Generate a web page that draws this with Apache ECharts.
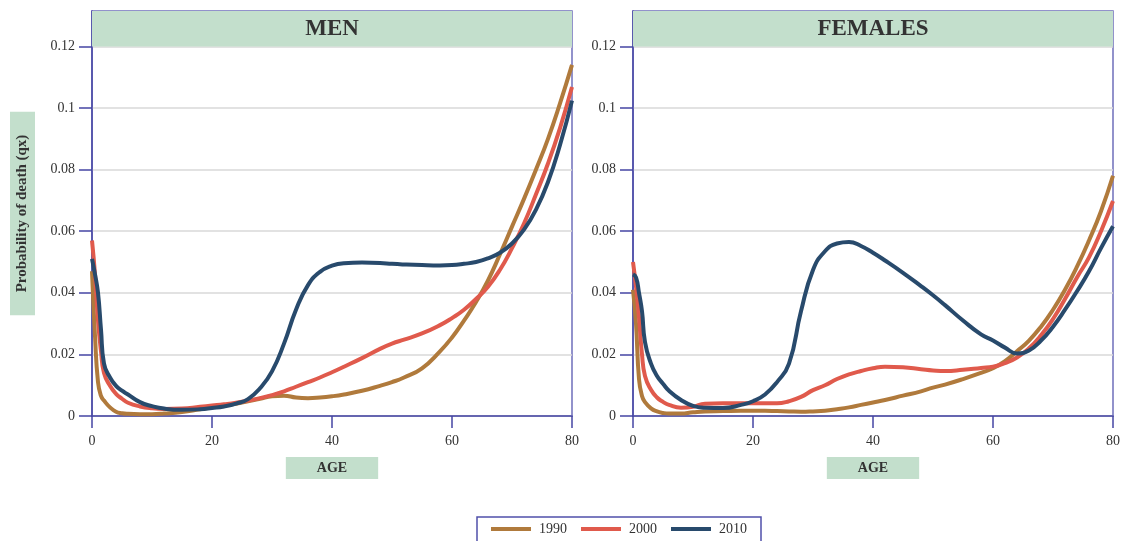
<!DOCTYPE html>
<html>
<head>
<meta charset="utf-8">
<script src="https://cdn.jsdelivr.net/npm/echarts@6/dist/echarts.min.js"></script>
<style>
    html, body { margin: 0; padding: 0; background: #fff; }
    #chart { width: 1124px; height: 541px; }
</style>
</head>
<body>
<div id="chart"></div>
<script>
// ages (years) shared by every curve
const ages = [0, 0.5, 1, 1.5, 2, 3, 4, 5, 6, 8, 10, 12, 15, 18, 20, 22, 24, 26, 28, 30,
    32, 34, 36, 38, 40, 42, 45, 48, 50, 52, 55, 58, 60, 62, 64, 66, 68, 70, 72, 74, 76, 78, 80];

// probability of death, men
const men1990 = [0.047, 0.026, 0.011, 0.0065, 0.005, 0.0028, 0.0014, 0.0009, 0.0007, 0.0006, 0.0006, 0.0008, 0.0013, 0.0022, 0.0028, 0.0034, 0.004, 0.0048, 0.0056, 0.0064,
    0.0066, 0.006, 0.0058, 0.006, 0.0064, 0.007, 0.0082, 0.0098, 0.011, 0.0125, 0.0155, 0.021, 0.0255, 0.031, 0.037, 0.044, 0.0525, 0.0615, 0.0705, 0.08, 0.09, 0.1015, 0.114];
const men2000 = [0.057, 0.046, 0.031, 0.021, 0.014, 0.0098, 0.0072, 0.0056, 0.0043, 0.0031, 0.0025, 0.0023, 0.0024, 0.003, 0.0034, 0.0038, 0.0043, 0.005, 0.0058, 0.0068,
    0.008, 0.0095, 0.011, 0.0125, 0.0142, 0.016, 0.0188, 0.0218, 0.0235, 0.0248, 0.0268, 0.0295, 0.0318, 0.0345, 0.038, 0.042, 0.0475, 0.0545, 0.0625, 0.072, 0.082, 0.0935, 0.1068];
const men2010 = [0.051, 0.046, 0.04, 0.028, 0.017, 0.0125, 0.0098, 0.0082, 0.007, 0.0045, 0.0032, 0.0024, 0.002, 0.0022, 0.0026, 0.0031, 0.004, 0.0055, 0.009, 0.0145,
    0.0235, 0.0345, 0.0425, 0.0468, 0.0488, 0.0496, 0.0498, 0.0497, 0.0494, 0.0492, 0.049, 0.0489, 0.049, 0.0494, 0.05, 0.0512, 0.053, 0.056, 0.0605, 0.067, 0.076, 0.088, 0.1024];

// probability of death, females
const fem1990 = [0.041, 0.03, 0.012, 0.0065, 0.0045, 0.0025, 0.0015, 0.001, 0.0008, 0.0008, 0.0012, 0.0015, 0.0016, 0.0017, 0.0017, 0.0017, 0.0016, 0.0015, 0.0014, 0.0015,
    0.0017, 0.0022, 0.0028, 0.0036, 0.0044, 0.0052, 0.0066, 0.008, 0.0092, 0.0102, 0.012, 0.014, 0.0155, 0.0178, 0.021, 0.0245, 0.029, 0.0345, 0.041, 0.0485, 0.057, 0.0665, 0.078];
const fem2000 = [0.05, 0.042, 0.032, 0.02, 0.013, 0.0085, 0.006, 0.0046, 0.0036, 0.0027, 0.003, 0.004, 0.0041, 0.0041, 0.0041, 0.0041, 0.0041, 0.0048, 0.0062, 0.0084,
    0.01, 0.012, 0.0135, 0.0146, 0.0155, 0.016, 0.0158, 0.0152, 0.0148, 0.0146, 0.015, 0.0156, 0.016, 0.0172, 0.019, 0.022, 0.0262, 0.0315, 0.038, 0.045, 0.0515, 0.06, 0.0698];
const fem2010 = [0.046, 0.045, 0.04, 0.034, 0.024, 0.017, 0.013, 0.0105, 0.0082, 0.0052, 0.0033, 0.0027, 0.0026, 0.0036, 0.0048, 0.007, 0.011, 0.017, 0.034, 0.0474,
    0.0535, 0.056, 0.0565, 0.0552, 0.053, 0.0505, 0.0465, 0.0422, 0.0392, 0.036, 0.031, 0.0265, 0.0245, 0.0222, 0.0203, 0.0213, 0.0245, 0.029, 0.0345, 0.0405, 0.047, 0.0545, 0.0616];

const yTicks = [0, 0.02, 0.04, 0.06, 0.08, 0.1, 0.12];
const years = ['1990', '2000', '2010'];
const colors = ['#b07a3c', '#e05a4c', '#284a6c'];

const axisBlue = '#4646a4';
const serif = 'Liberation Serif';
const band = '#c3dfcc';

function pairs(vals) {
    return ages.map((a, i) => [a, vals[i]]);
}

function xAxisCfg(idx) {
    return {
        type: 'value',
        gridIndex: idx,
        min: 0,
        max: 80,
        interval: 20,
        name: 'AGE',
        nameLocation: 'middle',
        nameGap: 41,
        nameTextStyle: {
            fontFamily: serif,
            fontWeight: 'bold',
            fontSize: 14,
            color: '#333',
            backgroundColor: band,
            padding: [4, 31],
        },
        axisLine: { lineStyle: { color: axisBlue, width: 1.5 } },
        axisTick: { show: true, inside: false, length: 12, lineStyle: { color: axisBlue, width: 1.5 } },
        axisLabel: { margin: 18, fontFamily: serif, fontSize: 14, color: '#333' },
        splitLine: { show: false },
    };
}

function yAxisCfg(idx, withName) {
    return {
        type: 'value',
        gridIndex: idx,
        min: 0,
        max: 0.1315,
        interval: 0.02,
        name: withName ? 'Probability of death (qx)' : '',
        nameLocation: 'middle',
        nameGap: 57,
        nameRotate: 90,
        nameTextStyle: {
            fontFamily: serif,
            fontWeight: 'bold',
            fontSize: 15,
            color: '#333',
            backgroundColor: band,
            padding: [5, 23],
        },
        axisLine: { show: true, lineStyle: { color: axisBlue, width: 1.5 } },
        axisTick: { show: true, inside: false, length: 13, customValues: yTicks, lineStyle: { color: axisBlue, width: 1.5 } },
        axisLabel: {
            margin: 17,
            fontFamily: serif,
            fontSize: 14,
            color: '#333',
            customValues: yTicks,
            formatter: (v) => (v > 0.1201 ? '' : String(+v.toFixed(2))),
        },
        splitLine: { show: true, lineStyle: { color: '#d9d9d9', width: 1.5 } },
    };
}

function panelSeries(idx, title, data) {
    return data.map((vals, k) => {
        const s = {
            name: years[k],
            type: 'line',
            xAxisIndex: idx,
            yAxisIndex: idx,
            data: pairs(vals),
            showSymbol: false,
            smooth: 0.5,
            color: colors[k],
            lineStyle: { width: 4, color: colors[k] },
            z: 3 + k,
        };
        if (k === 0) {
            // title band on top of the plot box
            s.markArea = {
                silent: true,
                itemStyle: { color: band },
                label: {
                    show: true,
                    position: 'inside',
                    fontFamily: serif,
                    fontWeight: 'bold',
                    fontSize: 23,
                    color: '#333',
                },
                data: [[{ name: title, xAxis: 0, yAxis: 0.12 }, { xAxis: 80, yAxis: 0.1315 }]],
            };
        }
        return s;
    });
}

const myChart = echarts.init(document.getElementById('chart'));

const option = {
    animation: false,
    backgroundColor: '#fff',
    legend: {
        data: years,
        left: 477,
        top: 517,
        padding: [5, 14, 12, 14],
        borderColor: '#5050aa',
        borderWidth: 1.5,
        itemGap: 14,
        itemWidth: 40,
        itemHeight: 4,
        icon: 'rect',
        textStyle: { fontFamily: serif, fontSize: 14, color: '#333', padding: [0, 0, 0, 3] },
    },
    grid: [
        { left: 92, right: 552, top: 11, bottom: 125, show: true, borderColor: '#6f6fbb', borderWidth: 1.5 },
        { left: 633, right: 11, top: 11, bottom: 125, show: true, borderColor: '#6f6fbb', borderWidth: 1.5 },
    ],
    xAxis: [xAxisCfg(0), xAxisCfg(1)],
    yAxis: [yAxisCfg(0, true), yAxisCfg(1, false)],
    series: [
        ...panelSeries(0, 'MEN', [men1990, men2000, men2010]),
        ...panelSeries(1, 'FEMALES', [fem1990, fem2000, fem2010]),
    ],
};

myChart.setOption(option);
</script>
</body>
</html>
